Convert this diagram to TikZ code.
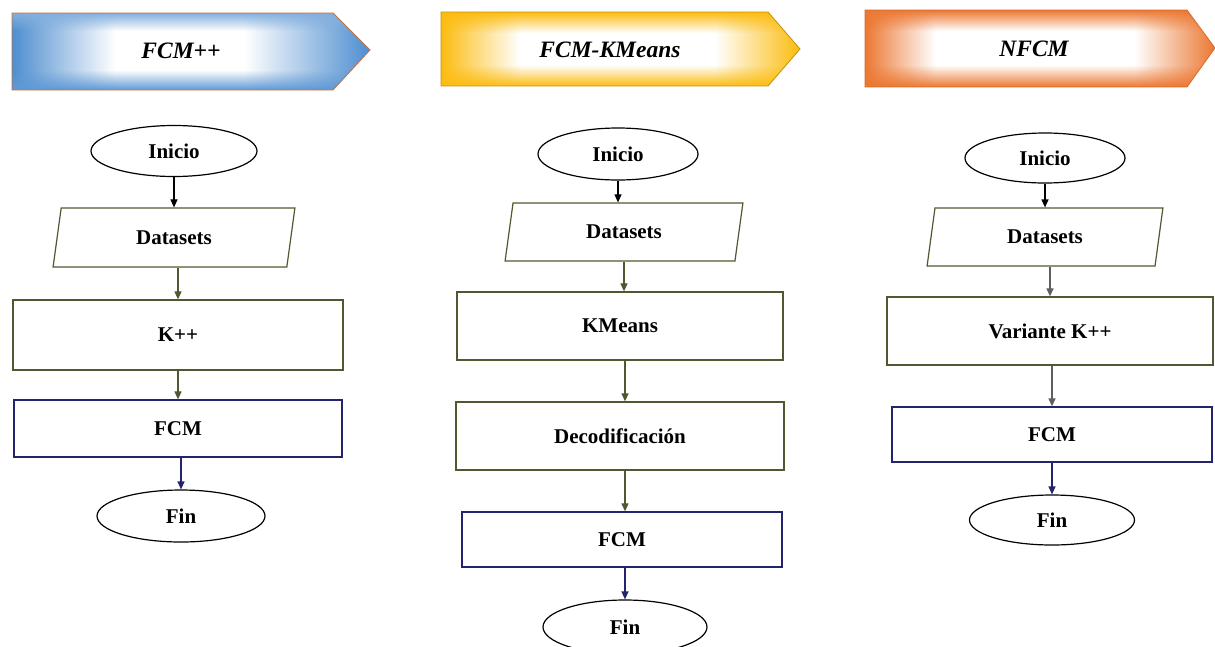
\documentclass[tikz,border=0pt]{standalone}
\usepackage{fontspec}
\setmainfont{Liberation Serif}
\usetikzlibrary{shapes.geometric,arrows.meta,fadings}

\definecolor{olivedk}{RGB}{80,88,48}
\definecolor{navyline}{RGB}{36,36,108}
\definecolor{greyline}{RGB}{95,95,95}
\definecolor{bannerblue}{RGB}{78,142,208}
\definecolor{banneryellow}{RGB}{252,188,16}
\definecolor{bannerorange}{RGB}{236,120,50}
\definecolor{edgeblue}{RGB}{196,112,62}
\definecolor{edgeyellow}{RGB}{196,146,10}
\definecolor{edgeorange}{RGB}{214,108,44}

% soft edges for the header banners
\tikzfading[name=fade to right, left color=transparent!0, right color=transparent!100]
\tikzfading[name=fade to left, left color=transparent!100, right color=transparent!0]
\tikzfading[name=fade to bottom, top color=transparent!0, bottom color=transparent!100]
\tikzfading[name=fade to top, top color=transparent!100, bottom color=transparent!0]

\begin{document}
\begin{tikzpicture}[x=1pt,y=-1pt,
  bodytext/.style={font=\fontsize{21}{25}\selectfont\bfseries},
  headtext/.style={font=\fontsize{23.5}{28}\selectfont\bfseries\itshape},
  terminal/.style={ellipse, draw=black, line width=1.2pt, inner sep=0pt, bodytext},
  datain/.style={trapezium, trapezium left angle=79, trapezium right angle=101,
    trapezium stretches=true, draw=olivedk, line width=1.2pt, inner sep=0pt, bodytext},
  procbox/.style={rectangle, draw=olivedk, line width=1.3pt, inner sep=0pt, bodytext},
  fcmbox/.style={rectangle, draw=navyline, line width=1.3pt, inner sep=0pt, bodytext},
  flow/.style={-{Triangle[length=8pt,width=7pt]}, line width=1.2pt},
]
\useasboundingbox (0,0) rectangle (1215,646);
\fill[white] (0,0) rectangle (1215,646);

% ---------- header banners ----------
\begin{scope}
  \clip (12,13) -- (333,13) -- (370,50) -- (333,90) -- (12,90) -- cycle;
  \fill[white] (12,13) rectangle (370,90);
  \fill[bannerblue, path fading=fade to right] (12,13) rectangle (115,90);
  \fill[bannerblue, path fading=fade to left] (245,13) rectangle (370,90);
  \fill[bannerblue!70, path fading=fade to bottom] (12,13) rectangle (370,31);
  \fill[bannerblue!90, path fading=fade to top] (12,70) rectangle (370,90);
\end{scope}
\draw[edgeblue, line width=0.8pt] (12,13) -- (333,13) -- (370,50) -- (333,90) -- (12,90) -- cycle;

\begin{scope}
  \clip (441,12) -- (768,12) -- (800,49) -- (768,86) -- (441,86) -- cycle;
  \fill[white] (441,12) rectangle (800,86);
  \fill[banneryellow, path fading=fade to right] (441,12) rectangle (520,86);
  \fill[banneryellow, path fading=fade to left] (715,12) rectangle (800,86);
  \fill[banneryellow, path fading=fade to bottom] (441,12) rectangle (800,33);
  \fill[banneryellow, path fading=fade to top] (441,65) rectangle (800,86);
\end{scope}
\draw[edgeyellow, line width=0.8pt] (441,12) -- (768,12) -- (800,49) -- (768,86) -- (441,86) -- cycle;

\begin{scope}
  \clip (865,10) -- (1187,10) -- (1215,48) -- (1187,87) -- (865,87) -- cycle;
  \fill[white] (865,10) rectangle (1215,87);
  \fill[bannerorange, path fading=fade to right] (865,10) rectangle (935,87);
  \fill[bannerorange, path fading=fade to left] (1135,10) rectangle (1215,87);
  \fill[bannerorange, path fading=fade to bottom] (865,10) rectangle (1215,31);
  \fill[bannerorange, path fading=fade to top] (865,65) rectangle (1215,87);
\end{scope}
\draw[edgeorange, line width=0.8pt] (865,10) -- (1187,10) -- (1215,48) -- (1187,87) -- (865,87) -- cycle;

\node[headtext] (h1) at (181,51) {FCM++};
\node[headtext] (h2) at (610,50) {FCM-KMeans};
\node[headtext] (h3) at (1034,49) {NFCM};

% ---------- FCM++ ----------
\node[terminal, minimum width=166pt, minimum height=51pt] (ini1) at (174,151) {Inicio};
\node[datain, minimum width=242pt, minimum height=59pt] (dat1) at (174,237.5) {Datasets};
\node[procbox, minimum width=330pt, minimum height=70pt] (k1) at (178,335) {K++};
\node[fcmbox, minimum width=328pt, minimum height=57pt] (fcm1) at (178,428.5) {FCM};
\node[terminal, minimum width=168pt, minimum height=52pt] (fin1) at (181,516) {Fin};

\draw[flow, black] (ini1.south) -- (ini1.south |- dat1.north);
\draw[flow, olivedk] (k1.north |- dat1.south) -- (k1.north);
\draw[flow, olivedk] (k1.south) -- (k1.south |- fcm1.north);
\draw[flow, navyline] (fin1.north |- fcm1.south) -- (fin1.north);

% ---------- FCM-KMeans ----------
\node[terminal, minimum width=160pt, minimum height=52pt] (ini2) at (618,154) {Inicio};
\node[datain, minimum width=238pt, minimum height=58pt] (dat2) at (624,232) {Datasets};
\node[procbox, minimum width=326pt, minimum height=68pt] (km2) at (620,326) {KMeans};
\node[procbox, minimum width=328pt, minimum height=68pt] (dec2) at (620,436) {Decodificación};
\node[fcmbox, minimum width=320pt, minimum height=55pt] (fcm2) at (622,539.5) {FCM};
\node[terminal, minimum width=164pt, minimum height=54pt] (fin2) at (625,627) {Fin};

\draw[flow, black] (ini2.south) -- (ini2.south |- dat2.north);
\draw[flow, olivedk] (dat2.south) -- (dat2.south |- km2.north);
\draw[flow, olivedk] (fin2.north |- km2.south) -- (fin2.north |- dec2.north);
\draw[flow, olivedk] (fin2.north |- dec2.south) -- (fin2.north |- fcm2.north);
\draw[flow, navyline] (fin2.north |- fcm2.south) -- (fin2.north);

% ---------- NFCM ----------
\node[terminal, minimum width=160pt, minimum height=50pt] (ini3) at (1045,158) {Inicio};
\node[datain, minimum width=236pt, minimum height=58pt] (dat3) at (1045,237) {Datasets};
\node[procbox, minimum width=326pt, minimum height=68pt] (var3) at (1050,331) {Variante K++};
\node[fcmbox, minimum width=320pt, minimum height=55pt] (fcm3) at (1052,434.5) {FCM};
\node[terminal, minimum width=165pt, minimum height=50pt] (fin3) at (1052,520) {Fin};

\draw[flow, black] (ini3.south) -- (ini3.south |- dat3.north);
\draw[flow, greyline] (var3.north |- dat3.south) -- (var3.north);
\draw[flow, greyline] (fcm3.north |- var3.south) -- (fcm3.north);
\draw[flow, navyline] (fcm3.south) -- (fcm3.south |- fin3.north);
\end{tikzpicture}
\end{document}
